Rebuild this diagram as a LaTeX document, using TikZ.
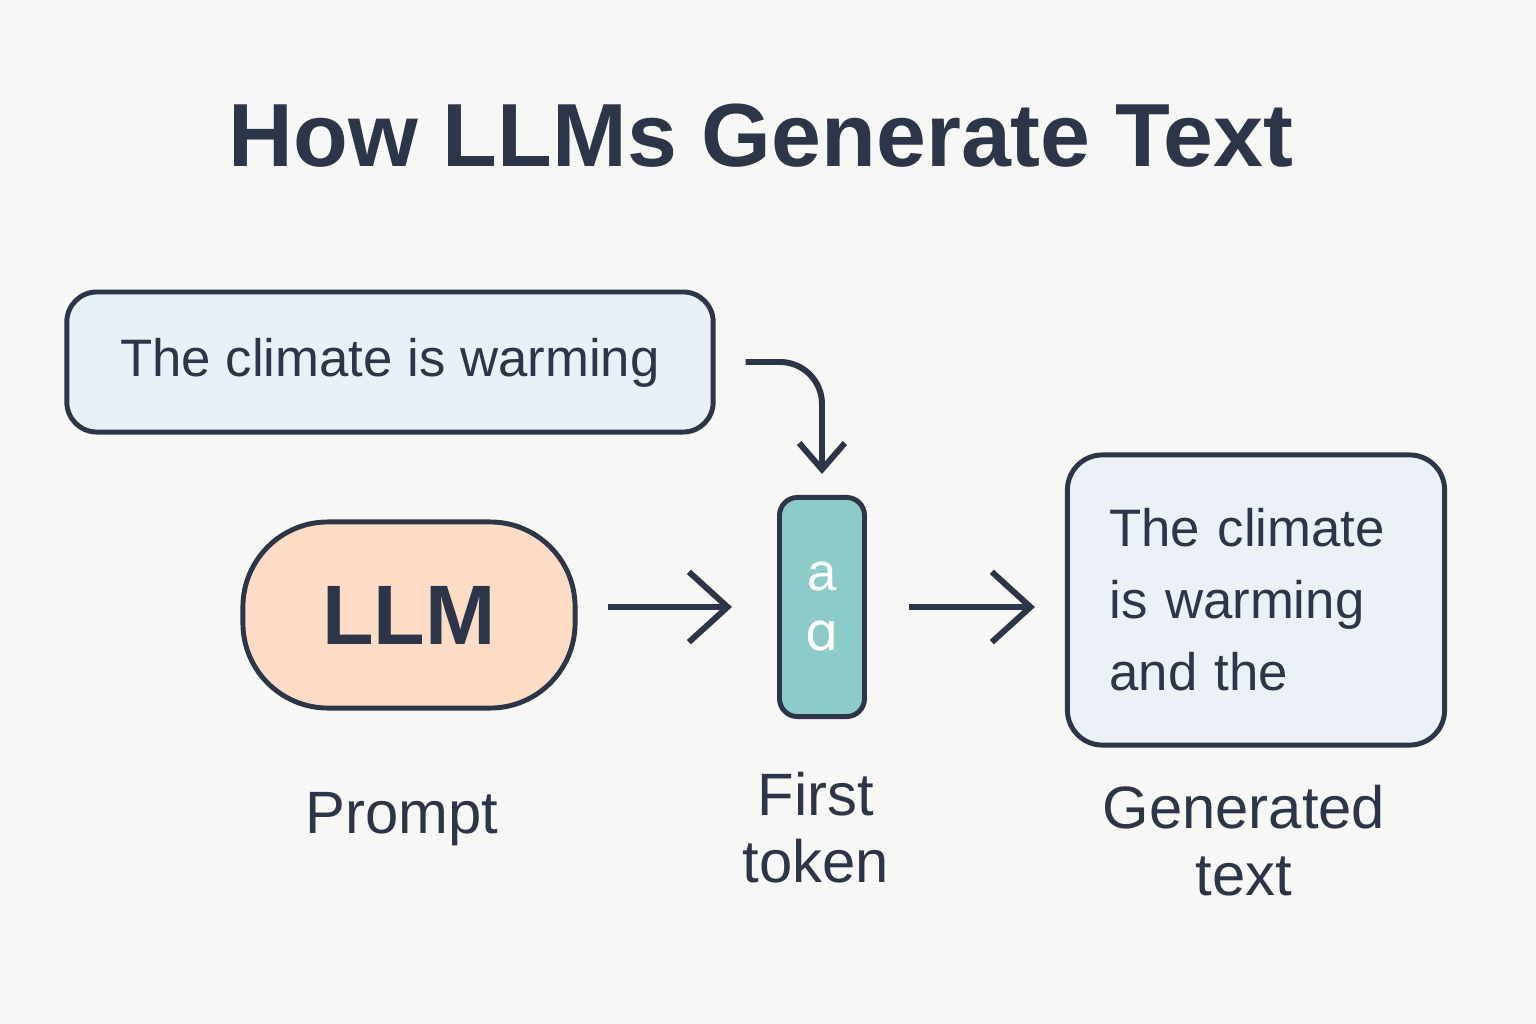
\documentclass[tikz,border=0pt]{standalone}
\usepackage{fontspec}
\setmainfont{Liberation Sans}
\newfontfamily\ipafont{DejaVu Sans}
\usetikzlibrary{arrows.meta}
\definecolor{bgColor}{RGB}{247,247,245}
\definecolor{inkColor}{RGB}{44,54,72}
\definecolor{promptColor}{RGB}{234,240,248}
\definecolor{llmColor}{RGB}{253,220,198}
\definecolor{tokenColor}{RGB}{141,203,200}
\definecolor{genColor}{RGB}{236,241,248}

\tikzset{
  box/.style={draw=inkColor, line width=1.4pt, text=inkColor, inner sep=0pt},
  arr/.style={draw=inkColor, line width=1.7pt, -{Straight Barb[length=11pt, width=20pt]}},
  arrsmall/.style={draw=inkColor, line width=1.7pt, -{Straight Barb[length=7.5pt, width=13pt]}},
  caption/.style={text=inkColor, font=\fontsize{17}{19}\selectfont, align=center, anchor=base}
}

\begin{document}
\begin{tikzpicture}[x=0.01cm, y=-0.01cm]
    % Background
    \fill[bgColor] (0,0) rectangle (1536,1024);

    % Title
    \node[anchor=base, text=inkColor, font=\fontsize{25.5}{30}\selectfont\bfseries] (title) at (761,166) {How LLMs Generate Text};

    % Prompt box
    \node[box, fill=promptColor, rounded corners=0.3cm, minimum width=6.46cm, minimum height=1.4cm, text depth=0.1cm, font=\fontsize{15}{18}\selectfont] (prompt) at (390,362) {The climate is warming};

    % LLM
    \node[box, fill=llmColor, rounded corners=0.85cm, minimum width=3.32cm, minimum height=1.86cm, font=\fontsize{24}{28}\selectfont\bfseries] (llm) at (409,615) {LLM};

    % First token
    \node[box, fill=tokenColor, rounded corners=0.18cm, minimum width=0.85cm, minimum height=2.19cm, text=white, align=center, font=\fontsize{15}{17}\selectfont] (token) at (822,607) {a\\{\ipafont ɑ}};

    % Generated text
    \node[box, fill=genColor, rounded corners=0.35cm, text width=2.93cm, inner xsep=0.42cm, minimum height=2.9cm, align=left, font=\fontsize{15}{20.5}\selectfont] (gen) at (1256,600) {The climate\\is warming\\and the};

    % Arrows
    \draw[arr, shorten <=0.3cm, shorten >=0.45cm] (llm.east |- token.west) -- (token.west);
    \draw[arr, shorten <=0.42cm, shorten >=0.3cm] (token.east) -- (token.east -| gen.west);
    \draw[arrsmall, rounded corners=0.42cm, shorten <=0.3cm, shorten >=0.21cm] (prompt.east) -| (token.north);

    % Labels
    \node[caption] (promptLabel) at (402,833) {Prompt};
    \node[caption] (tokenLabel) at (816,882) {First\\token};
    \node[caption] (genLabel) at (1244,895) {Generated\\text};
\end{tikzpicture}
\end{document}
